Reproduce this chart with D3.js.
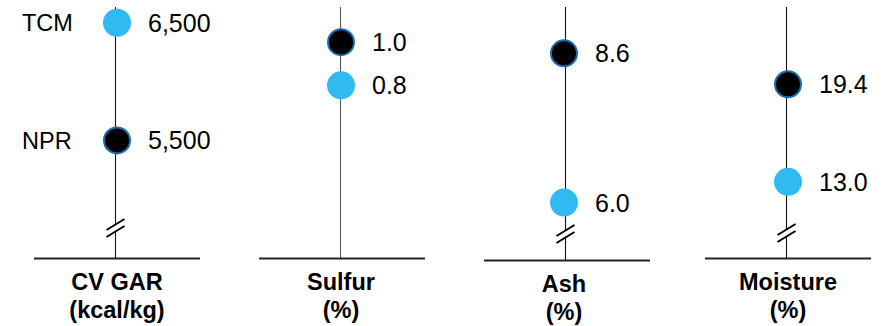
<!DOCTYPE html>
<html><head><meta charset="utf-8">
<script src="https://cdn.jsdelivr.net/npm/d3@7"></script>
<style>body{margin:0;background:#fff} svg{display:block}</style>
</head><body>
<svg id="chart" width="882" height="326"></svg>
<script>
// ---- data ----
const metrics = ["CV GAR", "Sulfur", "Ash", "Moisture"];
const units = ["(kcal/kg)", "(%)", "(%)", "(%)"];
const seriesNames = ["TCM", "NPR"];
const tcmValues = [6500, 0.8, 6.0, 13.0];
const nprValues = [5500, 1.0, 8.6, 19.4];
const tcmLabels = ["6,500", "0.8", "6.0", "13.0"];
const nprLabels = ["5,500", "1.0", "8.6", "19.4"];
const axisMin = [4500, 0, 5, 8];
const axisMax = [6634, 1.163, 9.406, 24.48];
const axisBroken = [true, false, true, true];

// ---- layout ----
const lineX = [115, 340, 565, 786];
const dotX = [117, 341, 564, 788];
const baseY = [258, 258, 260, 258];
const breakOffset = [30, 0, 26, 25];
const topY = 7;
const halfBase = 83;
const font = "'Liberation Sans', Arial, sans-serif";
const blue = "#2fbaf2", dark = "#000", ring = "#1a6db0";

const svg = d3.select("#chart");

metrics.forEach((m, i) => {
  const y = d3.scaleLinear().domain([axisMin[i], axisMax[i]]).range([baseY[i], topY]);
  const g = svg.append("g");
  const lx = lineX[i] + 0.5;

  // vertical axis line
  if (axisBroken[i]) {
    const by = baseY[i] - breakOffset[i];
    g.append("line").attr("x1", lx).attr("x2", lx).attr("y1", y(axisMax[i])).attr("y2", by - 4)
      .attr("stroke", "#111").attr("stroke-width", 1.1);
    g.append("line").attr("x1", lx).attr("x2", lx).attr("y1", by + 4).attr("y2", y(axisMin[i]))
      .attr("stroke", "#111").attr("stroke-width", 1.1);
    [-3.5, 3.5].forEach(d => {
      g.append("line")
        .attr("x1", lx - 9).attr("y1", by + d + 5.5)
        .attr("x2", lx + 9).attr("y2", by + d - 5.5)
        .attr("stroke", "#000").attr("stroke-width", 2);
    });
  } else {
    g.append("line").attr("x1", lx).attr("x2", lx).attr("y1", y(axisMax[i])).attr("y2", y(axisMin[i]))
      .attr("stroke", "#555").attr("stroke-width", 1.1);
  }

  // baseline
  g.append("line").attr("x1", lineX[i] + 2 - halfBase).attr("x2", lineX[i] + 2 + halfBase)
    .attr("y1", y(axisMin[i]) + 0.5).attr("y2", y(axisMin[i]) + 0.5)
    .attr("stroke", "#222").attr("stroke-width", 2);

  // points
  const pts = [
    {name: seriesNames[0], v: tcmValues[i], lab: tcmLabels[i], fill: blue, stroke: "none"},
    {name: seriesNames[1], v: nprValues[i], lab: nprLabels[i], fill: dark, stroke: ring}
  ];
  pts.forEach(p => {
    g.append("circle").attr("cx", dotX[i]).attr("cy", y(p.v))
      .attr("r", p.stroke === "none" ? 14 : 13)
      .attr("fill", p.fill).attr("stroke", p.stroke).attr("stroke-width", 2);
    g.append("text").attr("x", dotX[i] + 31).attr("y", y(p.v)).attr("dy", "0.36em")
      .attr("font-family", font).attr("font-size", 25).attr("fill", "#000").text(p.lab);
    if (i === 0) {
      g.append("text").attr("x", 22).attr("y", y(p.v)).attr("dy", "0.36em")
        .attr("font-family", font).attr("font-size", 23.5).attr("fill", "#000").text(p.name);
    }
  });

  // titles
  g.append("text").attr("x", dotX[i]).attr("y", y(axisMin[i]) + 32).attr("text-anchor", "middle")
    .attr("font-family", font).attr("font-size", 23.5).attr("font-weight", "bold").attr("fill", "#000").text(m);
  g.append("text").attr("x", dotX[i]).attr("y", y(axisMin[i]) + 60).attr("text-anchor", "middle")
    .attr("font-family", font).attr("font-size", 23.5).attr("font-weight", "bold").attr("fill", "#000").text(units[i]);
});
</script>
</body></html>
